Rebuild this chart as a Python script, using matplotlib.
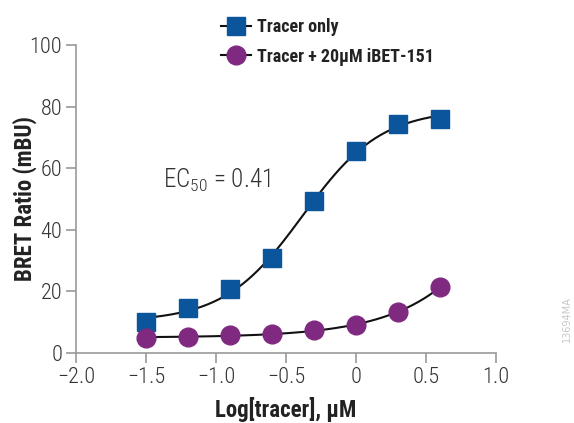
import numpy as np
import matplotlib
matplotlib.use("Agg")
import matplotlib.pyplot as plt
from matplotlib.lines import Line2D

# ---- data ----
log_tracer = [-1.5, -1.2, -0.9, -0.6, -0.3, 0.0, 0.3, 0.6]
tracer_only = [10.0, 14.6, 20.8, 30.8, 49.4, 65.6, 74.4, 76.0]
tracer_ibet = [4.9, 5.2, 5.8, 6.2, 7.5, 9.1, 13.3, 21.4]
series_labels = ["Tracer only", "Tracer + 20µM iBET-151"]
x_ticks = [-2.0, -1.5, -1.0, -0.5, 0.0, 0.5, 1.0]
x_tick_labels = ["\u22122.0", "\u22121.5", "\u22121.0", "\u22120.5", "0", "0.5", "1.0"]
y_ticks = [0, 20, 40, 60, 80, 100]
ec50_text = "EC$_{50}$ = 0.41"

BLUE = "#0b559c"
PURPLE = "#7f2a80"
TXT = "#333333"
AX = "#9a9a9a"
FONT = "Roboto Condensed"
plt.rcParams["mathtext.fontset"] = "custom"
plt.rcParams["mathtext.rm"] = FONT + ":light"

def fit_4pl(x, y):
    x = np.asarray(x, float); y = np.asarray(y, float)
    best = None
    for c in np.linspace(-1.5, 2.5, 401):
        for h in np.linspace(0.5, 3.0, 101):
            f = 1.0 / (1.0 + 10 ** ((c - x) * h))
            A = np.column_stack([np.ones_like(f), f])
            coef, *_ = np.linalg.lstsq(A, y, rcond=None)
            sse = np.sum((A @ coef - y) ** 2)
            if best is None or sse < best[0]:
                best = (sse, c, h, coef)
    _, c, h, coef = best
    return lambda xx: coef[0] + coef[1] / (1.0 + 10 ** ((c - xx) * h))

fig = plt.figure(figsize=(5.74, 4.23), dpi=100)
ax = fig.add_axes([0.1324, 0.1655, 0.7317, 0.728])

xs = np.linspace(min(log_tracer), max(log_tracer), 300)
f1 = fit_4pl(log_tracer, tracer_only)
f2 = fit_4pl(log_tracer, tracer_ibet)
ax.plot(xs, f1(xs), color="#111111", lw=1.5, zorder=2)
ax.plot(xs, f2(xs), color="#111111", lw=1.5, zorder=2)
ax.plot(log_tracer, tracer_only, ls="none", marker="s", ms=13, color=BLUE, mec=BLUE, zorder=3)
ax.plot(log_tracer, tracer_ibet, ls="none", marker="o", ms=13.5, color=PURPLE, mec=PURPLE, zorder=3)

ax.set_xlim(-2.0, 1.0)
ax.set_ylim(0, 100)
ax.set_xticks(x_ticks)
ax.set_xticklabels(x_tick_labels)
ax.set_yticks(y_ticks)
for s in ["top", "right"]:
    ax.spines[s].set_visible(False)
for s in ["left", "bottom"]:
    ax.spines[s].set_color(AX)
    ax.spines[s].set_linewidth(1.2)
ax.tick_params(direction="out", length=7, width=1.2, color=AX, labelcolor=TXT, labelsize=16, pad=3)
for lab in ax.get_xticklabels() + ax.get_yticklabels():
    lab.set_fontfamily(FONT)
    lab.set_fontweight("light")

ax.set_xlabel("Log[tracer], µM", fontsize=16.5, fontweight="bold", family=FONT, color="#222222", va="center")
ax.set_ylabel("BRET Ratio (mBU)", fontsize=16.5, fontweight="bold", family=FONT, color="#222222", va="center")
ax.xaxis.set_label_coords(0.50, -0.185)
ax.yaxis.set_label_coords(-0.121, 0.50)

ax.text(-1.38, 53.6, ec50_text, fontsize=18, family=FONT, fontweight="light", color=TXT, va="baseline")

h1 = Line2D([], [], color="#111111", lw=1.5, marker="s", ms=13, mfc=BLUE, mec=BLUE)
h2 = Line2D([], [], color="#111111", lw=1.5, marker="o", ms=13.5, mfc=PURPLE, mec=PURPLE)
leg = fig.legend([h1, h2], series_labels, loc="upper left", bbox_to_anchor=(0.356, 0.995),
                 frameon=False, handlelength=1.7, handletextpad=0.3, labelspacing=0.62,
                 prop={"family": FONT, "weight": "bold", "size": 13})
for t in leg.get_texts():
    t.set_color("#222222")

fig.text(0.988, 0.245, "13694MA", rotation=90, fontsize=7, color="#c8c8c8", ha="center", va="center")

fig.savefig("out.png", dpi=100)
